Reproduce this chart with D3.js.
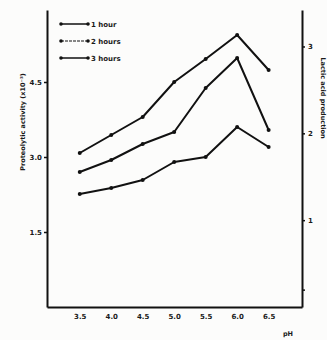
<!DOCTYPE html>
<html>
<head>
<meta charset="utf-8">
<script src="https://cdn.jsdelivr.net/npm/d3@7"></script>
<style>
  body { margin: 0; background: #fcfcfb; }
  svg { display: block; }
  text { font-family: "DejaVu Sans", sans-serif; font-weight: bold; fill: #1a1a1a; }
</style>
</head>
<body>
<svg id="chart"></svg>
<script>
// pH values on the x axis
const ph = [3.5, 4.0, 4.5, 5.0, 5.5, 6.0, 6.5];
const phLabels = ["3.5", "4.0", "4.5", "5.0", "5.5", "6.0", "6.5"];

// values read against the left axis
const hour1 = [2.26, 2.38, 2.54, 2.9, 3.0, 3.6, 3.2];
const hour2 = [2.7, 2.94, 3.26, 3.5, 4.38, 4.98, 3.54];
const hour3 = [3.08, 3.44, 3.8, 4.5, 4.96, 5.44, 4.74];
const seriesNames = ["1 hour", "2 hours", "3 hours"];

const leftTicks = [1.5, 3.0, 4.5];
const leftTickLabels = ["1.5", "3.0", "4.5"];
const rightTicks = [0.2, 1, 2, 3];
const rightTickLabels = ["", "1", "2", "3"];

const W = 327, H = 340;
const svg = d3.select('#chart').attr('width', W).attr('height', H);

const x = d3.scaleLinear().domain([2.98, 7.03]).range([47, 302]);
const yL = d3.scaleLinear().domain([0, 5.94]).range([307, 10]);
const yR = d3.scaleLinear().domain([0, 3.42]).range([307, 10]);

// axes
const gl = svg.append('g').attr('transform', 'translate(47,0)')
  .call(d3.axisLeft(yL).tickValues(leftTicks).tickFormat((d, i) => leftTickLabels[i]).tickSize(3).tickSizeOuter(0));
const gr = svg.append('g').attr('transform', 'translate(302,0)')
  .call(d3.axisRight(yR).tickValues(rightTicks).tickFormat((d, i) => rightTickLabels[i]).tickSize(3).tickSizeOuter(0));
const gb = svg.append('g').attr('transform', 'translate(0,307)')
  .call(d3.axisBottom(x).tickValues(ph).tickFormat((d, i) => phLabels[i]).tickSize(0).tickSizeOuter(0).tickPadding(7));

[gl, gr, gb].forEach(g => {
  g.select('.domain').attr('stroke', '#111').attr('stroke-width', 2);
  g.selectAll('.tick line').attr('stroke', '#111').attr('stroke-width', 1.5);
  g.selectAll('.tick text').style('font-size', '7px').attr('fill', '#111');
});
gl.selectAll('.tick text').attr('dx', '1px');

// lines
const line = d3.line().x((d, i) => x(ph[i])).y(d => yL(d));
[hour1, hour2, hour3].forEach(vals => {
  svg.append('path').datum(vals)
    .attr('fill', 'none').attr('stroke', '#111').attr('stroke-width', 2)
    .attr('stroke-linejoin', 'round').attr('d', line);
  svg.append('g').selectAll('circle').data(vals).enter().append('circle')
    .attr('cx', (d, i) => x(ph[i])).attr('cy', d => yL(d)).attr('r', 2).attr('fill', '#111');
});

// legend
const leg = svg.append('g');
seriesNames.forEach((name, i) => {
  const yy = 24 + i * 17;
  leg.append('line').attr('x1', 61).attr('x2', 88).attr('y1', yy).attr('y2', yy)
    .attr('stroke', '#111').attr('stroke-width', i === 1 ? 1 : 1.5)
    .attr('stroke-dasharray', i === 1 ? '3,1' : null);
  leg.append('circle').attr('cx', 61).attr('cy', yy).attr('r', 1.8).attr('fill', '#111');
  leg.append('circle').attr('cx', 88).attr('cy', yy).attr('r', 1.8).attr('fill', '#111');
  leg.append('text').attr('x', 91).attr('y', yy + 2.5).style('font-size', '7px').text(name);
});

// axis titles
svg.append('text').attr('transform', 'translate(25,122) rotate(-90)')
  .attr('text-anchor', 'middle').style('font-size', '6.5px').text('Proteolytic activity (x10⁻³)');
svg.append('text').attr('transform', 'translate(321,98) rotate(90)')
  .attr('text-anchor', 'middle').style('font-size', '6.5px').text('Lactic acid production');
svg.append('text').attr('x', 288).attr('y', 336).attr('text-anchor', 'middle')
  .style('font-size', '6.5px').text('pH');
</script>
</body>
</html>
